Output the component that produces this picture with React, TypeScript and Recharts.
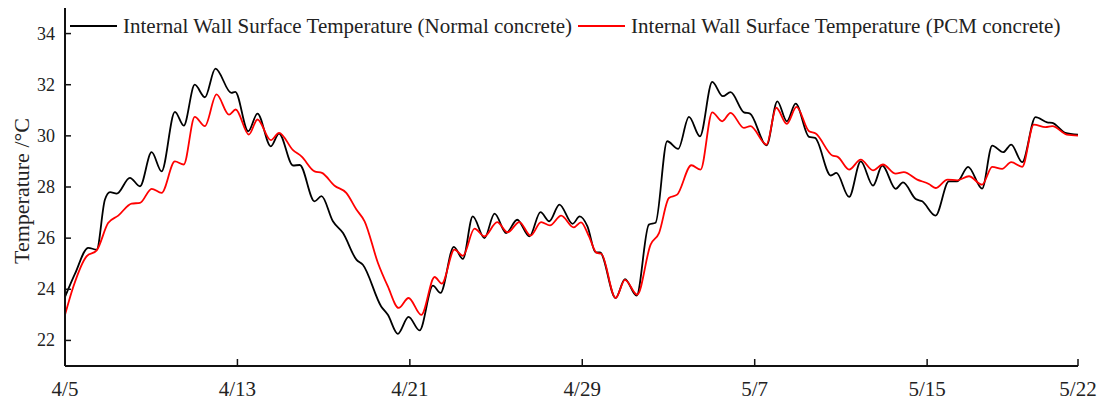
import React from 'react';
import { LineChart, Line, XAxis, YAxis, Legend } from 'recharts';

// x positions are days after 4/5
const tickDays = [0, 8, 16, 24, 32, 40, 47];
const tickLabels = ['4/5', '4/13', '4/21', '4/29', '5/7', '5/15', '5/22'];
const yTicks = [22, 24, 26, 28, 30, 32, 34];

const normalDays = [
  0, 0.46, 1.08, 1.47, 1.85, 2.09, 2.4, 3.01, 3.48, 4.02, 4.48, 5.1, 5.51, 6.02, 6.49, 6.98, 7.72, 7.9,
  8.5, 8.93, 9.55, 9.93, 10.58, 10.89, 11.58, 11.9, 12.43, 12.9, 13.52, 13.82, 14.67, 14.98, 15.44, 15.94,
  16.45, 17.07, 17.42, 18.04, 18.46, 18.92, 19.46, 19.93, 20.47, 20.98, 21.55, 22.06, 22.47, 22.94, 23.55, 23.88,
  24.24, 24.62, 24.82, 25.55, 25.98, 26.52, 27.09, 27.4, 27.94, 28.45, 28.95, 29.46, 30.03, 30.52, 30.88, 31.5, 31.78,
  32.55, 33.05, 33.49, 33.9, 34.52, 34.8, 35.53, 35.79, 36.38, 36.92, 37.49, 37.92, 38.54, 38.88, 39.47, 39.77,
  40.39, 41.01, 41.4, 41.9, 42.55, 43.02, 43.53, 43.9, 44.41, 45.03, 45.57, 45.81, 46.41, 47,
];
const normalTemps = [
  23.7, 24.6, 25.62, 25.55, 27.5, 27.8, 27.74, 28.36, 28.03, 29.36, 28.61, 30.94, 30.4, 32.0, 31.51, 32.63, 31.68, 31.72,
  30.18, 30.87, 29.59, 30.09, 28.84, 28.86, 27.44, 27.64, 26.66, 26.2, 25.16, 24.96, 23.33, 23.0, 22.26, 22.92,
  22.39, 24.14, 23.86, 25.66, 25.19, 26.85, 26.0, 26.96, 26.2, 26.72, 26.07, 27.02, 26.66, 27.31, 26.56, 26.85,
  26.46, 25.44, 25.44, 23.66, 24.4, 23.75, 26.53, 26.6, 29.79, 29.49, 30.74, 29.98, 32.11, 31.55, 31.71, 30.92, 30.87,
  29.63, 31.35, 30.57, 31.26, 29.96, 29.92, 28.45, 28.55, 27.61, 29.0, 28.05, 28.84, 27.93, 28.18, 27.53, 27.44,
  26.88, 28.22, 28.22, 28.79, 27.94, 29.62, 29.36, 29.66, 28.97, 30.73, 30.53, 30.51, 30.12, 30.05,
];

const pcmDays = [
  0, 0.39, 1.0, 1.47, 2.0, 2.47, 3.09, 3.48, 4.02, 4.48, 5.1, 5.51, 6.02, 6.49, 7.03, 7.61, 7.92,
  8.53, 8.93, 9.55, 9.93, 10.58, 10.97, 11.58, 11.92, 12.51, 13.05, 13.52, 13.9, 14.52, 14.98, 15.48, 15.94,
  16.53, 17.15, 17.48, 18.07, 18.46, 19.0, 19.46, 20.05, 20.54, 21.08, 21.6, 22.09, 22.5, 23.02, 23.6, 23.94,
  24.31, 24.67, 24.88, 25.55, 25.98, 26.55, 27.17, 27.56, 28.02, 28.4, 29.06, 29.49, 30.03, 30.49, 30.88, 31.5, 31.8,
  32.55, 33.0, 33.49, 33.94, 34.52, 34.83, 35.6, 35.85, 36.38, 36.92, 37.49, 37.95, 38.54, 38.92, 39.54, 40.08,
  40.39, 40.95, 41.4, 41.94, 42.55, 43.02, 43.48, 43.9, 44.41, 44.95, 45.49, 45.81, 46.48, 47,
];
const pcmTemps = [
  23.0, 24.11, 25.29, 25.52, 26.59, 26.88, 27.35, 27.38, 27.93, 27.77, 29.0, 28.88, 30.74, 30.38, 31.62, 30.83, 31.03,
  30.05, 30.64, 29.83, 30.12, 29.44, 29.2, 28.61, 28.55, 28.05, 27.77, 27.12, 26.66, 25.03, 24.11, 23.27, 23.66,
  23.0, 24.48, 24.22, 25.55, 25.31, 26.37, 26.07, 26.63, 26.23, 26.63, 26.1, 26.63, 26.5, 26.88, 26.42, 26.62,
  26.07, 25.42, 25.39, 23.66, 24.37, 23.79, 25.75, 26.2, 27.57, 27.7, 28.85, 28.68, 30.92, 30.57, 30.9, 30.31, 30.38,
  29.66, 31.1, 30.47, 31.13, 30.18, 30.09, 29.23, 29.18, 28.68, 29.07, 28.65, 28.88, 28.52, 28.58, 28.29, 28.12,
  27.96, 28.29, 28.26, 28.42, 28.09, 28.79, 28.71, 28.97, 28.79, 30.44, 30.34, 30.38, 30.05, 30.01,
];

const seriesNames = [
  'Internal Wall Surface Temperature (Normal concrete)',
  'Internal Wall Surface Temperature (PCM concrete)',
];
const seriesColors = ['#000000', '#ff0000'];

const normalData = normalDays.map((d, i) => ({ day: d, value: normalTemps[i] }));
const pcmData = pcmDays.map((d, i) => ({ day: d, value: pcmTemps[i] }));

const FONT = '"Liberation Serif", "Times New Roman", serif';
const FRAME = { stroke: '#111', strokeWidth: 2 };

const YTick = (props: any) => {
  const { x, y, payload } = props;
  return (
    <g>
      <line x1={x} x2={x + 6} y1={y} y2={y} stroke="#111" strokeWidth={1.5} />
      <text x={x - 10} y={y} textAnchor="end" dominantBaseline="central" fontSize={18} fontFamily={FONT} fill="#222">
        {payload.value}
      </text>
    </g>
  );
};

const XTick = (props: any) => {
  const { x, y, payload } = props;
  const idx = tickDays.indexOf(payload.value);
  return (
    <g>
      <line x1={x} x2={x} y1={y} y2={y - 7} stroke="#111" strokeWidth={1.5} />
      <text x={x} y={y + 23} textAnchor="middle" dominantBaseline="central" fontSize={21} fontFamily={FONT} fill="#222">
        {idx >= 0 ? tickLabels[idx] : ''}
      </text>
    </g>
  );
};

const LegendContent = () => (
  <div style={{ display: 'flex', alignItems: 'center', fontFamily: FONT, fontSize: 21, color: '#222', whiteSpace: 'nowrap', lineHeight: '24px' }}>
    {seriesNames.map((n, i) => (
      <div key={n} style={{ display: 'flex', alignItems: 'center', marginRight: 6 }}>
        <svg width={47} height={4} style={{ marginRight: 6 }}>
          <line x1={0} x2={47} y1={2} y2={2} stroke={seriesColors[i]} strokeWidth={2} />
        </svg>
        <span>{n}</span>
      </div>
    ))}
  </div>
);

export default function App() {
  return (
    <div style={{ position: 'absolute', left: 0, top: 0, width: 1106, height: 406, fontFamily: FONT, background: '#fff' }}>
      <LineChart width={1106} height={406} margin={{ top: 8, right: 28, left: 15, bottom: 10 }}>
        <XAxis
          xAxisId="main"
          dataKey="day"
          type="number"
          domain={[0, 47]}
          ticks={tickDays}
          allowDataOverflow
          tick={<XTick />}
          tickLine={false}
          tickSize={0}
          tickMargin={0}
          height={30}
          axisLine={FRAME}
        />
        <XAxis xAxisId="top" orientation="top" dataKey="day" type="number" domain={[0, 47]} tick={false} tickLine={false} height={0} axisLine={FRAME} />
        <YAxis
          yAxisId="main"
          type="number"
          domain={[21, 35]}
          ticks={yTicks}
          allowDataOverflow
          tick={<YTick />}
          tickLine={false}
          tickSize={0}
          tickMargin={0}
          width={50}
          axisLine={FRAME}
          label={{
            content: () => (
              <text transform="translate(21,191) rotate(-90)" textAnchor="middle" dominantBaseline="central" fontSize={22} fontFamily={FONT} fill="#222">
                Temperature /°C
              </text>
            ),
          }}
        />
        <YAxis yAxisId="right" orientation="right" type="number" domain={[21, 35]} tick={false} tickLine={false} width={0} axisLine={FRAME} />
        <Legend
          layout="horizontal"
          verticalAlign="middle"
          align="center"
          content={<LegendContent />}
          wrapperStyle={{ position: 'absolute', left: 70, top: 14, width: 'auto' }}
        />
        <Line
          xAxisId="main"
          yAxisId="main"
          data={normalData}
          dataKey="value"
          name={seriesNames[0]}
          type="monotone"
          stroke={seriesColors[0]}
          strokeWidth={1.8}
          dot={false}
          activeDot={false}
          isAnimationActive={false}
        />
        <Line
          xAxisId="main"
          yAxisId="main"
          data={pcmData}
          dataKey="value"
          name={seriesNames[1]}
          type="monotone"
          stroke={seriesColors[1]}
          strokeWidth={1.8}
          dot={false}
          activeDot={false}
          isAnimationActive={false}
        />
      </LineChart>
    </div>
  );
}
